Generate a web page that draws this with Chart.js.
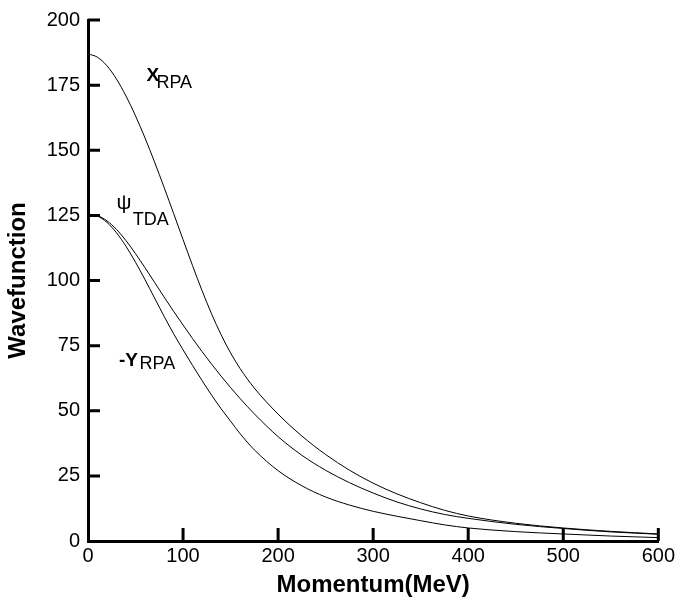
<!DOCTYPE html>
<html>
<head>
<meta charset="utf-8">
<script src="https://cdn.jsdelivr.net/npm/chart.js@4/dist/chart.umd.min.js"></script>
<style>
  html, body { margin: 0; padding: 0; background: #fff; }
  #wrap { width: 678px; height: 608px; }
</style>
</head>
<body>
<div id="wrap"><canvas id="c" width="678" height="608"></canvas></div>
<script>
// ---- data ----
const momentum  = [0,10,20,30,40,50,60,70,80,90,100,110,120,130,140,150,160,175,200,225,250,275,300,325,350,375,400,450,500,550,600];
const xRPA      = [187,185.7,182.4,177.3,170.8,163.2,154.7,145.5,135.8,125.8,115.7,105.7,96.1,87.2,79.2,72.2,66.2,58.7,48.7,40.3,33.2,27.2,22.2,18.1,14.7,11.8,9.6,6.8,5.0,3.7,2.7];
const psiTDA    = [125.5,124.9,122.9,119.6,115.3,110.3,104.9,99.3,93.7,88.2,82.9,77.7,72.7,67.9,63.3,58.9,54.7,48.8,40.05,32.9,27.15,22.4,18.4,15.0,12.3,10.2,8.7,6.4,4.8,3.5,2.6];
const minusYRPA = [125.5,124.7,122.3,118.3,113.1,107.0,100.3,93.3,86.3,79.6,73.4,67.4,61.6,56.0,50.8,46.0,41.2,35.0,27.0,21.2,16.9,13.8,11.4,9.5,7.8,6.2,5.0,3.6,2.7,1.9,1.3];
const xTickValues = [0,100,200,300,400,500,600];
const yTickValues = [0,25,50,75,100,125,150,175,200];

// curve labels: main text, subscript, anchor positions in data units
const curveLabels = [
  { main: 'X',  sub: 'RPA', mainAt: [61.5, 176.6], subAt: [72.0, 174.0], bold: true },
  { main: 'ψ',  sub: 'TDA', mainAt: [30.1, 127.6], subAt: [47.2, 121.3], bold: false },
  { main: '-Y', sub: 'RPA', mainAt: [32.5, 67.3],  subAt: [54.2, 66.0],  bold: true }
];

const toXY = (ys) => momentum.map((m, i) => ({ x: m, y: ys[i] }));
const FONT = "'Liberation Sans', Arial, Helvetica, sans-serif";

const innerTicks = {
  id: 'innerTicks',
  afterDraw(chart) {
    const ctx = chart.ctx, xs = chart.scales.x, ys = chart.scales.y;
    const a = chart.chartArea;
    ctx.save();
    ctx.strokeStyle = '#000';
    ctx.lineWidth = 3;
    ctx.beginPath();
    yTickValues.forEach(v => {
      if (v === 0) return;
      const p = ys.getPixelForValue(v);
      ctx.moveTo(a.left, p); ctx.lineTo(a.left + 12, p);
    });
    xTickValues.forEach(v => {
      if (v === 0) return;
      const p = xs.getPixelForValue(v);
      ctx.moveTo(p, a.bottom); ctx.lineTo(p, a.bottom - 13);
    });
    ctx.stroke();
    // curve labels
    ctx.fillStyle = '#000';
    ctx.textBaseline = 'alphabetic';
    ctx.textAlign = 'left';
    curveLabels.forEach(l => {
      ctx.font = (l.bold ? 'bold ' : '') + (l.main === 'ψ' ? '21px ' : '19px ') + FONT;
      ctx.fillText(l.main, xs.getPixelForValue(l.mainAt[0]), ys.getPixelForValue(l.mainAt[1]));
      ctx.font = '18px ' + FONT;
      ctx.fillText(l.sub, xs.getPixelForValue(l.subAt[0]), ys.getPixelForValue(l.subAt[1]));
    });
    ctx.restore();
  }
};

const lineStyle = { borderColor: '#000', borderWidth: 1, pointRadius: 0, fill: false, cubicInterpolationMode: 'monotone' };

new Chart(document.getElementById('c'), {
  type: 'line',
  data: {
    datasets: [
      Object.assign({ label: 'X_RPA', data: toXY(xRPA) }, lineStyle),
      Object.assign({ label: 'psi_TDA', data: toXY(psiTDA) }, lineStyle),
      Object.assign({ label: '-Y_RPA', data: toXY(minusYRPA) }, lineStyle)
    ]
  },
  options: {
    responsive: false,
    animation: false,
    layout: { padding: { left: 0, right: 17, top: 13, bottom: 0 } },
    plugins: { legend: { display: false }, tooltip: { enabled: false } },
    scales: {
      x: {
        type: 'linear', min: 0, max: 600,
        afterBuildTicks: (s) => { s.ticks = xTickValues.map(v => ({ value: v })); },
        afterFit: (s) => { s.height = 67; },
        grid: { display: false, drawTicks: false },
        border: { display: true, color: '#000', width: 3 },
        ticks: { color: '#000', padding: 3, maxRotation: 0, font: { family: FONT, size: 20 } },
        title: { display: true, text: 'Momentum(MeV)', color: '#000', padding: { top: 0, bottom: 8 }, font: { family: FONT, size: 24, weight: 'bold' } }
      },
      y: {
        type: 'linear', min: 0, max: 200,
        afterBuildTicks: (s) => { s.ticks = yTickValues.map(v => ({ value: v })); },
        afterFit: (s) => { s.width = 88; },
        grid: { display: false, drawTicks: false },
        border: { display: true, color: '#000', width: 3 },
        ticks: { color: '#000', padding: 8, font: { family: FONT, size: 20 } },
        title: { display: true, text: 'Wavefunction', color: '#000', padding: { top: 4, bottom: 0 }, font: { family: FONT, size: 24, weight: 'bold' } }
      }
    }
  },
  plugins: [innerTicks]
});
</script>
</body>
</html>
